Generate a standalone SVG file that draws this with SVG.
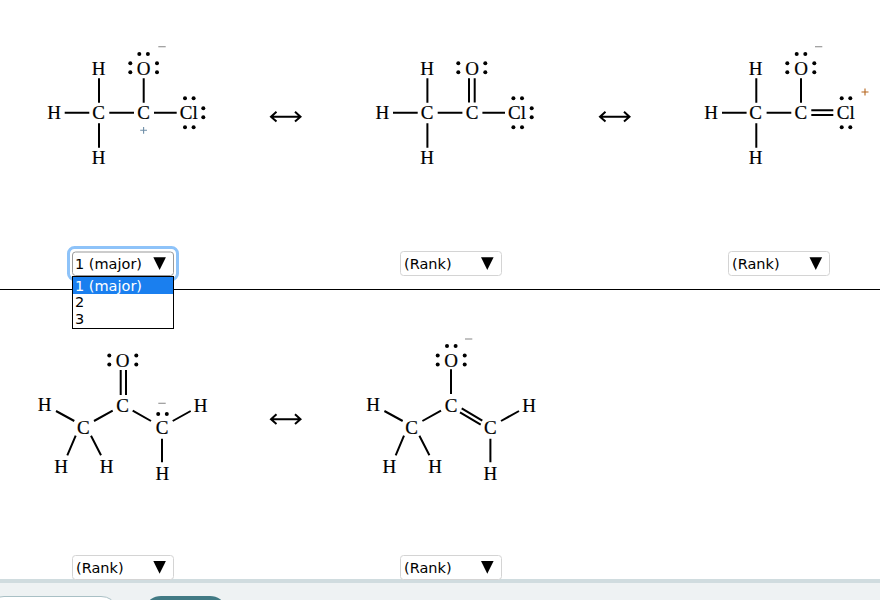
<svg xmlns="http://www.w3.org/2000/svg" width="880" height="600" viewBox="0 0 880 600">
<style>
.a{font-family:"Liberation Serif","Times New Roman",serif;font-size:19px;fill:#000;text-anchor:middle;stroke:#000;stroke-width:.2}
.b{stroke:#000;stroke-width:2;fill:none}
.d{fill:#000}
.m{stroke:#999;stroke-width:1.2;fill:none}
.s{fill:#fff;stroke:#d4d4d4;stroke-width:1}
.t{font-family:"DejaVu Sans",Verdana,sans-serif;font-size:14.500px;fill:#000}
.ar{fill:#000}
</style>
<defs>
<g id="dot2h"><circle cx="0" cy="0" r="2" class="d"/><circle cx="8.6" cy="0" r="2" class="d"/></g>
<g id="dot2v"><circle cx="0" cy="0" r="2" class="d"/><circle cx="0" cy="9" r="2" class="d"/></g>
<path id="arrow" d="M271 116.7H300.500M276.500 111.800L271 116.7L276.500 121.600M295 111.800L300.500 116.7L295 121.600" class="b"/>
<path id="tri" d="M0 0H12.600L6.300 12.700Z" class="ar"/>
</defs>
<rect width="880" height="600" fill="#fff"/>
<g id="connectors">
<path class="b" d="M64.700 112.700H89.300M109.300 112.700H134M154 112.700H176.700M99 78.300V102.700M99 123.300V147.700M143.700 78.300V102.700"/>
<path class="b" d="M393 112.700H417.700M437.700 112.700H462.400M482.400 112.700H505M427.400 78.300V102.700M427.400 123.300V147.700M469 78.300V102.500M474.700 78.300V102.500"/>
<path class="b" d="M722 112.700H746.600M766.600 112.700H791.300M811.300 110.300H833.300M811.300 115H833.300M756.300 78.300V102.700M756.300 123.300V147.700M801 78.300V102.700"/>
<path class="b" d="M120.700 370V395M126 370V395M56 411L74.300 421M94 421L112.700 410.700M132.700 410.700L151 421M172.700 421L190.700 411M162 438.700V462.300M75.700 435.700L67.300 455.300M91 435.700L101 455.300"/>
<path class="b" d="M451 369.300V394M384.400 411L402.700 421M422.400 421L441 410.700M461.700 408.300L482.300 420.700M460 412.300L480.700 424.700M501 421L519 411M490.400 438.700V462.300M404 435.700L395.700 455.300M419.400 435.700L429.400 455.300"/>
<use href="#arrow"/>
<use href="#arrow" x="329"/>
<use href="#arrow" y="302.500"/>
</g>
<g id="mol1">
<text class="a" x="54" y="119">H</text><text class="a" x="98.700" y="119">C</text><text class="a" x="143.500" y="119">C</text><text class="a" x="188.700" y="119">Cl</text>
<text class="a" x="98.700" y="74.500">H</text><text class="a" x="143.600" y="74.500">O</text><text class="a" x="98.700" y="164">H</text>
<use href="#dot2h" x="139.300" y="54"/><use href="#dot2v" x="130.300" y="63.300"/><use href="#dot2v" x="157" y="63.300"/>
<use href="#dot2h" x="185" y="98.300"/><use href="#dot2h" x="185" y="127.300"/><use href="#dot2v" x="203.300" y="108.300"/>
<path class="m" d="M158.300 46.700H165.700"/>
<path d="M140.200 130.300H147M143.600 127V133.700" stroke="#6f8fa8" stroke-width="1.100" fill="none"/>
</g>
<g id="mol2">
<text class="a" x="382.400" y="119">H</text><text class="a" x="427" y="119">C</text><text class="a" x="472" y="119">C</text><text class="a" x="517" y="119">Cl</text>
<text class="a" x="427" y="74.500">H</text><text class="a" x="472" y="74.500">O</text><text class="a" x="427" y="164">H</text>
<use href="#dot2v" x="458.300" y="63.300"/><use href="#dot2v" x="485.300" y="63.300"/>
<use href="#dot2h" x="513.400" y="98.300"/><use href="#dot2h" x="513.400" y="127.300"/><use href="#dot2v" x="531.700" y="108.300"/>
</g>
<g id="mol3">
<text class="a" x="711" y="119">H</text><text class="a" x="755.700" y="119">C</text><text class="a" x="800.800" y="119">C</text><text class="a" x="845.700" y="119">Cl</text>
<text class="a" x="755.700" y="74.500">H</text><text class="a" x="801" y="74.500">O</text><text class="a" x="755.700" y="164">H</text>
<use href="#dot2h" x="796.700" y="54"/><use href="#dot2v" x="787.300" y="63.300"/><use href="#dot2v" x="814.300" y="63.300"/>
<use href="#dot2h" x="841.700" y="98.300"/><use href="#dot2h" x="841.700" y="127.300"/>
<path class="m" d="M815 46.700H822.300"/>
<path d="M861.500 92H868.500M865 88.500V95.500" stroke="#b5651d" stroke-width="1.100" fill="none"/>
</g>
<g id="mol4">
<text class="a" x="122.700" y="367">O</text><text class="a" x="122.700" y="411.500">C</text><text class="a" x="44.700" y="411">H</text><text class="a" x="83.300" y="434">C</text>
<text class="a" x="61" y="473">H</text><text class="a" x="106.700" y="473">H</text><text class="a" x="162" y="434">C</text><text class="a" x="200.700" y="412">H</text><text class="a" x="162.300" y="480">H</text>
<use href="#dot2v" x="109.300" y="355.500"/><use href="#dot2v" x="136.300" y="355.500"/><use href="#dot2h" x="158.200" y="414"/>
<path class="m" d="M158.300 403.300H165.700"/>
</g>
<g id="mol5">
<text class="a" x="451" y="367">O</text><text class="a" x="451" y="411.500">C</text><text class="a" x="373" y="411">H</text><text class="a" x="411.700" y="434">C</text>
<text class="a" x="389.400" y="473">H</text><text class="a" x="435" y="473">H</text><text class="a" x="490.400" y="434">C</text><text class="a" x="529" y="412">H</text><text class="a" x="490.400" y="480">H</text>
<use href="#dot2h" x="447" y="346"/><use href="#dot2v" x="437.700" y="355.500"/><use href="#dot2v" x="464.700" y="355.500"/>
<path class="m" d="M465 339H472.300"/>
</g>
<path id="divider" d="M0 289.500H880" stroke="#000" stroke-width="1"/>
<g id="footer">
<rect y="579" width="880" height="21" fill="#eef2f3"/>
<rect y="579" width="880" height="4" fill="#d0dcdf"/>
<rect x="-10" y="596.500" width="125" height="20" rx="14" fill="#fff" stroke="#a9c0c5"/>
<rect x="147" y="596" width="77" height="20" rx="14" fill="#417a84"/>
</g>
<g id="select1">
<rect x="68.500" y="247.500" width="109" height="32" rx="6" fill="#fff" stroke="#8ec3f9" stroke-width="3"/>
<rect x="72.500" y="252" width="101" height="23.500" rx="3" fill="#fff" stroke="#999"/>
<text class="t" x="75" y="269">1 (major)</text>
<use href="#tri" x="153.300" y="257.300"/>
</g>
<g id="list1">
<rect x="72.500" y="276.500" width="101" height="52" fill="#fff" stroke="#000"/>
<rect x="73" y="277" width="100" height="17" fill="#1a7fef"/>
<text class="t" x="75" y="291" style="fill:#fff">1 (major)</text>
<text class="t" x="75" y="307">2</text>
<text class="t" x="75" y="324">3</text>
</g>
<g id="select2"><rect class="s" x="400.500" y="251.500" width="101" height="24" rx="3"/><text class="t" x="404" y="269">(Rank)</text><use href="#tri" x="481" y="257.300"/></g>
<g id="select3"><rect class="s" x="728.500" y="251.500" width="101" height="24" rx="3"/><text class="t" x="732" y="269">(Rank)</text><use href="#tri" x="809.500" y="257.300"/></g>
<g id="select4"><rect class="s" x="72.500" y="555.500" width="101" height="24" rx="3"/><text class="t" x="76" y="573">(Rank)</text><use href="#tri" x="153.300" y="561"/></g>
<g id="select5"><rect class="s" x="400.500" y="555.500" width="101" height="24" rx="3"/><text class="t" x="404" y="573">(Rank)</text><use href="#tri" x="481" y="561"/></g>
</svg>
